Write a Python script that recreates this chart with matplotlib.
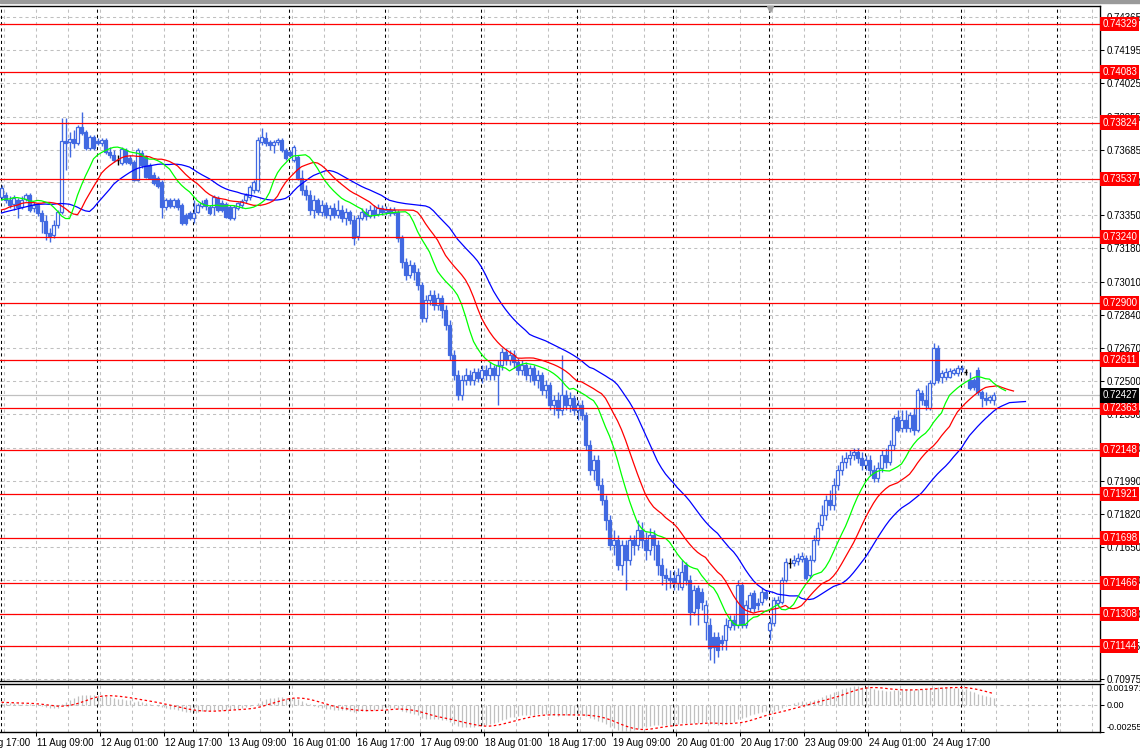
import numpy as np
import matplotlib
matplotlib.use("Agg")
from matplotlib import pyplot as plt
from matplotlib.patches import Rectangle

plt.rcParams['font.family'] = ['Liberation Sans', 'DejaVu Sans']

# AUDUSD H1, 11 Aug - 25 Aug (one row = one trading day, 24 bars)
days = ["10 Aug", "11 Aug", "12 Aug", "13 Aug", "16 Aug", "17 Aug", "18 Aug",
        "19 Aug", "20 Aug", "23 Aug", "24 Aug", "25 Aug"]

open_ = [
    0.73443, 0.73454, 0.73428, 0.73408, 0.73428, 0.73392, 0.73433, 0.73454, 0.73387, 0.73402, 0.73361, 0.73320, 0.73259, 0.73249, 0.73300, 0.73367, 0.73730, 0.73725, 0.73740, 0.73720, 0.73802, 0.73776, 0.73694, 0.73751,
    0.73730, 0.73720, 0.73735, 0.73674, 0.73658, 0.73633, 0.73617, 0.73684, 0.73643, 0.73623, 0.73530, 0.73669, 0.73648, 0.73607, 0.73556, 0.73541, 0.73520, 0.73392, 0.73428, 0.73397, 0.73428, 0.73402, 0.73351, 0.73361,
    0.73336, 0.73367, 0.73397, 0.73428, 0.73392, 0.73392, 0.73438, 0.73413, 0.73408, 0.73392, 0.73336, 0.73387, 0.73402, 0.73428, 0.73443, 0.73479, 0.73479, 0.73725, 0.73745, 0.73725, 0.73710, 0.73725, 0.73735, 0.73684,
    0.73674, 0.73633, 0.73648, 0.73541, 0.73479, 0.73454, 0.73377, 0.73428, 0.73367, 0.73402, 0.73351, 0.73387, 0.73351, 0.73377, 0.73336, 0.73367, 0.73326, 0.73244, 0.73336, 0.73367, 0.73346, 0.73377, 0.73356, 0.73387,
    0.73367, 0.73377, 0.73361, 0.73367, 0.73233, 0.73111, 0.73044, 0.73095, 0.73059, 0.72993, 0.72824, 0.72916, 0.72942, 0.72890, 0.72926, 0.72865, 0.72788, 0.72634, 0.72532, 0.72430, 0.72506, 0.72532, 0.72506, 0.72547,
    0.72517, 0.72558, 0.72532, 0.72568, 0.72532, 0.72583, 0.72650, 0.72609, 0.72634, 0.72599, 0.72558, 0.72583, 0.72532, 0.72568, 0.72506, 0.72532, 0.72455, 0.72481, 0.72378, 0.72404, 0.72353, 0.72430, 0.72378, 0.72414,
    0.72353, 0.72378, 0.72327, 0.72174, 0.72046, 0.72097, 0.71969, 0.71892, 0.71790, 0.71662, 0.71687, 0.71559, 0.71662, 0.71585, 0.71687, 0.71662, 0.71738, 0.71687, 0.71636, 0.71713, 0.71662, 0.71559, 0.71508, 0.71493,
    0.71493, 0.71467, 0.71447, 0.71559, 0.71482, 0.71319, 0.71441, 0.71421, 0.71267, 0.71252, 0.71191, 0.71191, 0.71175, 0.71175, 0.71242, 0.71278, 0.71252, 0.71457, 0.71252, 0.71339, 0.71416, 0.71365, 0.71370, 0.71421,
    0.71226, 0.71262, 0.71365, 0.71370, 0.71482, 0.71569, 0.71569, 0.71580, 0.71590, 0.71595, 0.71508, 0.71585, 0.71687, 0.71764, 0.71815, 0.71892, 0.71866, 0.71969, 0.72046, 0.72087, 0.72107, 0.72122, 0.72138, 0.72107,
    0.72071, 0.72097, 0.72046, 0.72005, 0.72056, 0.72122, 0.72087, 0.72174, 0.72317, 0.72261, 0.72302, 0.72261, 0.72327, 0.72250, 0.72440, 0.72404, 0.72363, 0.72491, 0.72670, 0.72522, 0.72522, 0.72522, 0.72542, 0.72542,
    0.72563, 0.72547, 0.72506, 0.72506, 0.72558, 0.72445, 0.72414, 0.72404, 0.72404,
]
high_ = [
    0.73505, 0.73469, 0.73448, 0.73454, 0.73438, 0.73448, 0.73464, 0.73464, 0.73418, 0.73413, 0.73377, 0.73351, 0.73285, 0.73326, 0.73377, 0.73848, 0.73848, 0.73776, 0.73786, 0.73812, 0.73879, 0.73786, 0.73761, 0.73761,
    0.73745, 0.73745, 0.73745, 0.73699, 0.73684, 0.73658, 0.73699, 0.73694, 0.73658, 0.73633, 0.73694, 0.73684, 0.73658, 0.73617, 0.73571, 0.73551, 0.73530, 0.73438, 0.73438, 0.73438, 0.73438, 0.73413, 0.73361, 0.73372,
    0.73428, 0.73413, 0.73428, 0.73438, 0.73402, 0.73454, 0.73448, 0.73428, 0.73418, 0.73402, 0.73402, 0.73418, 0.73433, 0.73464, 0.73505, 0.73530, 0.73751, 0.73797, 0.73776, 0.73735, 0.73735, 0.73745, 0.73745, 0.73694,
    0.73684, 0.73710, 0.73658, 0.73582, 0.73505, 0.73479, 0.73454, 0.73438, 0.73428, 0.73418, 0.73402, 0.73413, 0.73428, 0.73402, 0.73387, 0.73377, 0.73351, 0.73351, 0.73387, 0.73387, 0.73402, 0.73402, 0.73408, 0.73402,
    0.73397, 0.73392, 0.73392, 0.73377, 0.73249, 0.73131, 0.73121, 0.73111, 0.73080, 0.73008, 0.72942, 0.72967, 0.72967, 0.72952, 0.72942, 0.72890, 0.72814, 0.72660, 0.72558, 0.72532, 0.72568, 0.72558, 0.72568, 0.72568,
    0.72583, 0.72583, 0.72599, 0.72583, 0.72609, 0.72670, 0.72670, 0.72660, 0.72660, 0.72619, 0.72609, 0.72599, 0.72583, 0.72583, 0.72558, 0.72547, 0.72506, 0.72496, 0.72430, 0.72445, 0.72634, 0.72455, 0.72445, 0.72430,
    0.72404, 0.72404, 0.72343, 0.72199, 0.72122, 0.72122, 0.72005, 0.71918, 0.71815, 0.71738, 0.71713, 0.71687, 0.71687, 0.71713, 0.71713, 0.71790, 0.71779, 0.71728, 0.71749, 0.71738, 0.71687, 0.71595, 0.71544, 0.71534,
    0.71534, 0.71544, 0.71585, 0.71575, 0.71508, 0.71457, 0.71457, 0.71441, 0.71380, 0.71288, 0.71216, 0.71216, 0.71201, 0.71288, 0.71303, 0.71303, 0.71482, 0.71472, 0.71380, 0.71421, 0.71431, 0.71390, 0.71441, 0.71431,
    0.71293, 0.71395, 0.71400, 0.71498, 0.71595, 0.71595, 0.71610, 0.71621, 0.71626, 0.71610, 0.71610, 0.71713, 0.71779, 0.71866, 0.71918, 0.71943, 0.72005, 0.72071, 0.72122, 0.72138, 0.72148, 0.72158, 0.72158, 0.72138,
    0.72122, 0.72122, 0.72071, 0.72087, 0.72148, 0.72158, 0.72199, 0.72327, 0.72353, 0.72353, 0.72353, 0.72343, 0.72363, 0.72465, 0.72455, 0.72481, 0.72506, 0.72696, 0.72686, 0.72558, 0.72568, 0.72568, 0.72568, 0.72583,
    0.72583, 0.72563, 0.72547, 0.72517, 0.72573, 0.72455, 0.72445, 0.72430, 0.72445,
]
low_ = [
    0.73428, 0.73413, 0.73387, 0.73377, 0.73336, 0.73382, 0.73423, 0.73367, 0.73367, 0.73346, 0.73259, 0.73223, 0.73213, 0.73233, 0.73285, 0.73356, 0.73582, 0.73648, 0.73694, 0.73710, 0.73761, 0.73684, 0.73684, 0.73684,
    0.73710, 0.73704, 0.73664, 0.73643, 0.73623, 0.73607, 0.73607, 0.73612, 0.73607, 0.73525, 0.73525, 0.73592, 0.73541, 0.73536, 0.73505, 0.73489, 0.73336, 0.73377, 0.73387, 0.73387, 0.73377, 0.73300, 0.73300, 0.73326,
    0.73310, 0.73361, 0.73387, 0.73377, 0.73351, 0.73351, 0.73367, 0.73367, 0.73336, 0.73326, 0.73326, 0.73377, 0.73387, 0.73413, 0.73428, 0.73464, 0.73469, 0.73710, 0.73704, 0.73684, 0.73669, 0.73710, 0.73674, 0.73633,
    0.73648, 0.73623, 0.73530, 0.73454, 0.73428, 0.73351, 0.73336, 0.73351, 0.73346, 0.73336, 0.73326, 0.73336, 0.73336, 0.73315, 0.73300, 0.73305, 0.73198, 0.73223, 0.73326, 0.73326, 0.73336, 0.73336, 0.73346, 0.73351,
    0.73351, 0.73346, 0.73351, 0.73213, 0.73080, 0.73018, 0.73029, 0.73018, 0.72967, 0.72803, 0.72803, 0.72890, 0.72865, 0.72865, 0.72824, 0.72762, 0.72609, 0.72506, 0.72404, 0.72404, 0.72481, 0.72481, 0.72481, 0.72496,
    0.72491, 0.72506, 0.72506, 0.72506, 0.72378, 0.72558, 0.72583, 0.72583, 0.72568, 0.72532, 0.72532, 0.72506, 0.72496, 0.72481, 0.72465, 0.72430, 0.72414, 0.72353, 0.72327, 0.72312, 0.72327, 0.72353, 0.72343, 0.72327,
    0.72302, 0.72302, 0.72148, 0.72020, 0.71994, 0.71943, 0.71866, 0.71738, 0.71636, 0.71610, 0.71534, 0.71508, 0.71431, 0.71559, 0.71610, 0.71636, 0.71646, 0.71585, 0.71610, 0.71585, 0.71508, 0.71457, 0.71431, 0.71441,
    0.71431, 0.71431, 0.71431, 0.71457, 0.71252, 0.71303, 0.71252, 0.71329, 0.71175, 0.71073, 0.71057, 0.71088, 0.71124, 0.71124, 0.71226, 0.71226, 0.71237, 0.71237, 0.71237, 0.71319, 0.71319, 0.71329, 0.71354, 0.71380,
    0.71175, 0.71247, 0.71349, 0.71360, 0.71472, 0.71544, 0.71554, 0.71559, 0.71575, 0.71482, 0.71493, 0.71575, 0.71662, 0.71738, 0.71790, 0.71841, 0.71841, 0.71943, 0.72020, 0.72056, 0.72071, 0.72097, 0.72081, 0.72046,
    0.72046, 0.72020, 0.71984, 0.71984, 0.72035, 0.72056, 0.72071, 0.72148, 0.72240, 0.72240, 0.72240, 0.72240, 0.72225, 0.72240, 0.72378, 0.72353, 0.72353, 0.72481, 0.72491, 0.72491, 0.72506, 0.72517, 0.72532, 0.72527,
    0.72547, 0.72532, 0.72455, 0.72455, 0.72430, 0.72368, 0.72378, 0.72389, 0.72378,
]
close_ = [
    0.73489, 0.73428, 0.73402, 0.73438, 0.73392, 0.73428, 0.73454, 0.73377, 0.73402, 0.73361, 0.73320, 0.73259, 0.73244, 0.73300, 0.73367, 0.73730, 0.73720, 0.73740, 0.73720, 0.73802, 0.73771, 0.73694, 0.73751, 0.73694,
    0.73720, 0.73735, 0.73674, 0.73658, 0.73633, 0.73633, 0.73689, 0.73623, 0.73617, 0.73530, 0.73684, 0.73607, 0.73546, 0.73541, 0.73515, 0.73500, 0.73392, 0.73428, 0.73397, 0.73428, 0.73392, 0.73310, 0.73310, 0.73336,
    0.73361, 0.73402, 0.73413, 0.73397, 0.73361, 0.73443, 0.73377, 0.73377, 0.73341, 0.73336, 0.73392, 0.73413, 0.73423, 0.73454, 0.73495, 0.73520, 0.73735, 0.73751, 0.73720, 0.73710, 0.73725, 0.73735, 0.73684, 0.73643,
    0.73658, 0.73699, 0.73541, 0.73479, 0.73454, 0.73377, 0.73428, 0.73367, 0.73402, 0.73351, 0.73387, 0.73351, 0.73377, 0.73336, 0.73367, 0.73326, 0.73233, 0.73336, 0.73367, 0.73346, 0.73377, 0.73356, 0.73387, 0.73367,
    0.73377, 0.73361, 0.73377, 0.73233, 0.73111, 0.73044, 0.73095, 0.73059, 0.72993, 0.72824, 0.72916, 0.72942, 0.72890, 0.72926, 0.72865, 0.72788, 0.72634, 0.72532, 0.72430, 0.72506, 0.72532, 0.72506, 0.72547, 0.72517,
    0.72558, 0.72532, 0.72568, 0.72532, 0.72583, 0.72650, 0.72609, 0.72634, 0.72599, 0.72558, 0.72583, 0.72532, 0.72568, 0.72506, 0.72532, 0.72455, 0.72481, 0.72378, 0.72404, 0.72353, 0.72430, 0.72378, 0.72414, 0.72353,
    0.72378, 0.72327, 0.72174, 0.72046, 0.72097, 0.71969, 0.71892, 0.71790, 0.71662, 0.71687, 0.71559, 0.71662, 0.71585, 0.71687, 0.71662, 0.71738, 0.71687, 0.71636, 0.71713, 0.71662, 0.71559, 0.71508, 0.71493, 0.71482,
    0.71467, 0.71508, 0.71523, 0.71482, 0.71319, 0.71431, 0.71339, 0.71370, 0.71354, 0.71134, 0.71139, 0.71124, 0.71160, 0.71252, 0.71278, 0.71252, 0.71457, 0.71252, 0.71354, 0.71406, 0.71339, 0.71354, 0.71421, 0.71390,
    0.71262, 0.71380, 0.71380, 0.71482, 0.71575, 0.71569, 0.71585, 0.71595, 0.71605, 0.71493, 0.71585, 0.71687, 0.71749, 0.71815, 0.71892, 0.71866, 0.71969, 0.72046, 0.72087, 0.72107, 0.72122, 0.72138, 0.72107, 0.72071,
    0.72097, 0.72046, 0.72005, 0.72056, 0.72122, 0.72087, 0.72174, 0.72312, 0.72250, 0.72302, 0.72261, 0.72327, 0.72250, 0.72455, 0.72404, 0.72378, 0.72491, 0.72670, 0.72506, 0.72542, 0.72547, 0.72552, 0.72558, 0.72568,
    0.72568, 0.72547, 0.72465, 0.72471, 0.72445, 0.72414, 0.72404, 0.72419, 0.72427,
]

# horizontal level objects and the bid line
levels = [0.74329, 0.74083, 0.73824, 0.73537, 0.73240, 0.72900, 0.72611,
          0.72363, 0.72148, 0.71921, 0.71698, 0.71466, 0.71308, 0.71144]
bid = 0.72427
price_ticks = [0.74365, 0.74195, 0.74025, 0.73855, 0.73685, 0.73520, 0.73350,
               0.73180, 0.73010, 0.72840, 0.72670, 0.72500, 0.72330, 0.72160,
               0.71990, 0.71820, 0.71650, 0.71480, 0.71310, 0.71145, 0.70975]

# alligator values shown before the first visible bar (jaw 13/8, teeth 8/5, lips 5/3)
jaw_pre = [0.73361, 0.73367, 0.73372, 0.73377, 0.73382, 0.73387, 0.73392, 0.73397]
teeth_pre = [0.73377, 0.73382, 0.73392, 0.73397, 0.73402]
lips_pre = [0.73428, 0.73433, 0.73433]

# MACD(12,26,9) state before the first bar
ema_fast_seed = 0.73445
ema_slow_seed = 0.73420
macd_pre = [0.00035, 0.00032, 0.00030, 0.00027, 0.00024, 0.00020, 0.00017, 0.00014]
macd_max, macd_min = 0.001971, -0.00255

BLUE = '#4169E1'
GRID = '#c0c0c0'
FS = 7

o = np.array(open_)
h = np.array(high_)
l = np.array(low_)
c = np.array(close_)
n = len(c)
x = np.arange(n)

# --- indicators
med = (h + l) / 2


def smma(seed, period):
    out = []
    v = seed
    for m in med:
        v = (v * (period - 1) + m) / period
        out.append(v)
    return out


jaw = jaw_pre + smma(jaw_pre[-1], 13)
teeth = teeth_pre + smma(teeth_pre[-1], 8)
lips = lips_pre + smma(lips_pre[-1], 5)

ef, es = ema_fast_seed, ema_slow_seed
macd = []
for v in c:
    ef += (v - ef) * 2 / 13
    es += (v - es) * 2 / 27
    macd.append(ef - es)
full = macd_pre + macd
signal = [np.mean(full[i:i + 9]) for i in range(n)]

# --- figure
W, H = 1140, 754
fig = plt.figure(figsize=(W / 100, H / 100), dpi=100)
fig.patches.append(Rectangle((0, 1 - 3 / H), 1, 3 / H, transform=fig.transFigure,
                             color='#9a9a9a', zorder=0))
ax = fig.add_axes([0, 73 / H, 1100 / W, 675 / H])
ax2 = fig.add_axes([0, 22 / H, 1100 / W, 48 / H])

xlim = (-0.375, 274.625)
for a in (ax, ax2):
    a.set_xlim(xlim)
    for b in range(1, 275, 8):
        a.axvline(b - 0.3, color=GRID, lw=0.75, ls=(0, (3, 3)), zorder=0)
    for b in range(0, 275, 24):
        a.axvline(b - 0.2, color='black', lw=0.75, ls=(0, (3, 3)), zorder=1)
    a.spines['left'].set_visible(False)
    for s in ('top', 'bottom', 'right'):
        a.spines[s].set_linewidth(1.0)

ax.set_ylim(0.70965, 0.74421)
for p in price_ticks:
    ax.axhline(p, color=GRID, lw=0.75, ls=(0, (3, 3)), zorder=0)

# candles
up = c > o
dn = c < o
dj = c == o
ax.vlines(x[~dj], l[~dj], h[~dj], color=BLUE, lw=1.0, zorder=3)
ax.bar(x[up], c[up] - o[up], bottom=o[up], width=0.7, facecolor='white',
       edgecolor=BLUE, linewidth=0.9, zorder=4)
ax.bar(x[dn], o[dn] - c[dn], bottom=c[dn], width=0.7, facecolor=BLUE,
       edgecolor=BLUE, linewidth=0.9, zorder=4)
ax.vlines(x[dj], l[dj], h[dj], color='black', lw=1.0, zorder=4)
ax.hlines(c[dj], x[dj] - 0.45, x[dj] + 0.45, color='black', lw=1.0, zorder=4)

# alligator
ax.plot(np.arange(len(jaw)), jaw, color='#0000ff', lw=0.9, zorder=5)
ax.plot(np.arange(len(teeth)), teeth, color='#ff0000', lw=0.9, zorder=5)
ax.plot(np.arange(len(lips)), lips, color='#00ff00', lw=0.9, zorder=5)

# levels
for p in levels:
    ax.axhline(p, color='#ff0000', lw=0.9, zorder=6)
ax.axhline(bid, color='#c0c0c0', lw=0.9, zorder=2)

ytr = ax.get_yaxis_transform()
for p in levels:
    ax.text(1.002, p, f"{p:.5f}", transform=ytr, ha='left', va='center',
            color='white', fontsize=FS, clip_on=False, zorder=10,
            bbox=dict(boxstyle='square,pad=0.22', fc='#ff0000', ec='none'))
ax.text(1.002, bid, f"{bid:.5f}", transform=ytr, ha='left', va='center',
        color='white', fontsize=FS, clip_on=False, zorder=10,
        bbox=dict(boxstyle='square,pad=0.22', fc='black', ec='none'))

ax.yaxis.tick_right()
ax.set_yticks(price_ticks)
ax.set_yticklabels([f"{p:.5f}" for p in price_ticks])
ax.tick_params(axis='y', direction='out', length=3, width=0.75, labelsize=FS, pad=1.5)
ax.tick_params(axis='x', bottom=False, labelbottom=False)

# chart shift marker
ax.plot([192.2], [0.9955], marker='v', color='#a0a0a0', markersize=5,
        transform=ax.get_xaxis_transform(), clip_on=False, zorder=10)

# --- MACD window
ax2.set_ylim(macd_min, macd_max)
ax2.axhline(0, color=GRID, lw=0.75, ls=(0, (3, 3)), zorder=0)
ax2.vlines(x, 0, macd, color='#c0c0c0', lw=0.9, zorder=2)
ax2.plot(x, signal, color='#ff0000', lw=0.9, ls=(0, (2, 2)), zorder=3)
ax2.yaxis.tick_right()
ax2.set_yticks([macd_min, 0, macd_max])
ax2.set_yticklabels([f"{macd_min:.5f}", "0.00", f"{macd_max:.6f}"])
ax2.tick_params(axis='y', direction='out', length=3, width=0.75, labelsize=6.5, pad=1.5)
labs = ax2.get_yticklabels()
labs[0].set_va('bottom')
labs[2].set_va('top')

label_bars = list(range(-7, n - 10, 16))
ax2.set_xticks([b - 0.3 for b in label_bars if b >= 0])
ax2.set_xticklabels([])
ax2.tick_params(axis='x', direction='out', length=3, width=0.75)
xtr = ax2.get_xaxis_transform()
for b in label_bars:
    d = days[(b + 24) // 24]
    hh = (b + 24) % 24
    ax2.text(b - 0.1, -0.23, f"{d} {hh:02d}:00", transform=xtr, ha='left',
             va='center', fontsize=FS, clip_on=False)

fig.savefig("out.png", dpi=100)
plt.close()
